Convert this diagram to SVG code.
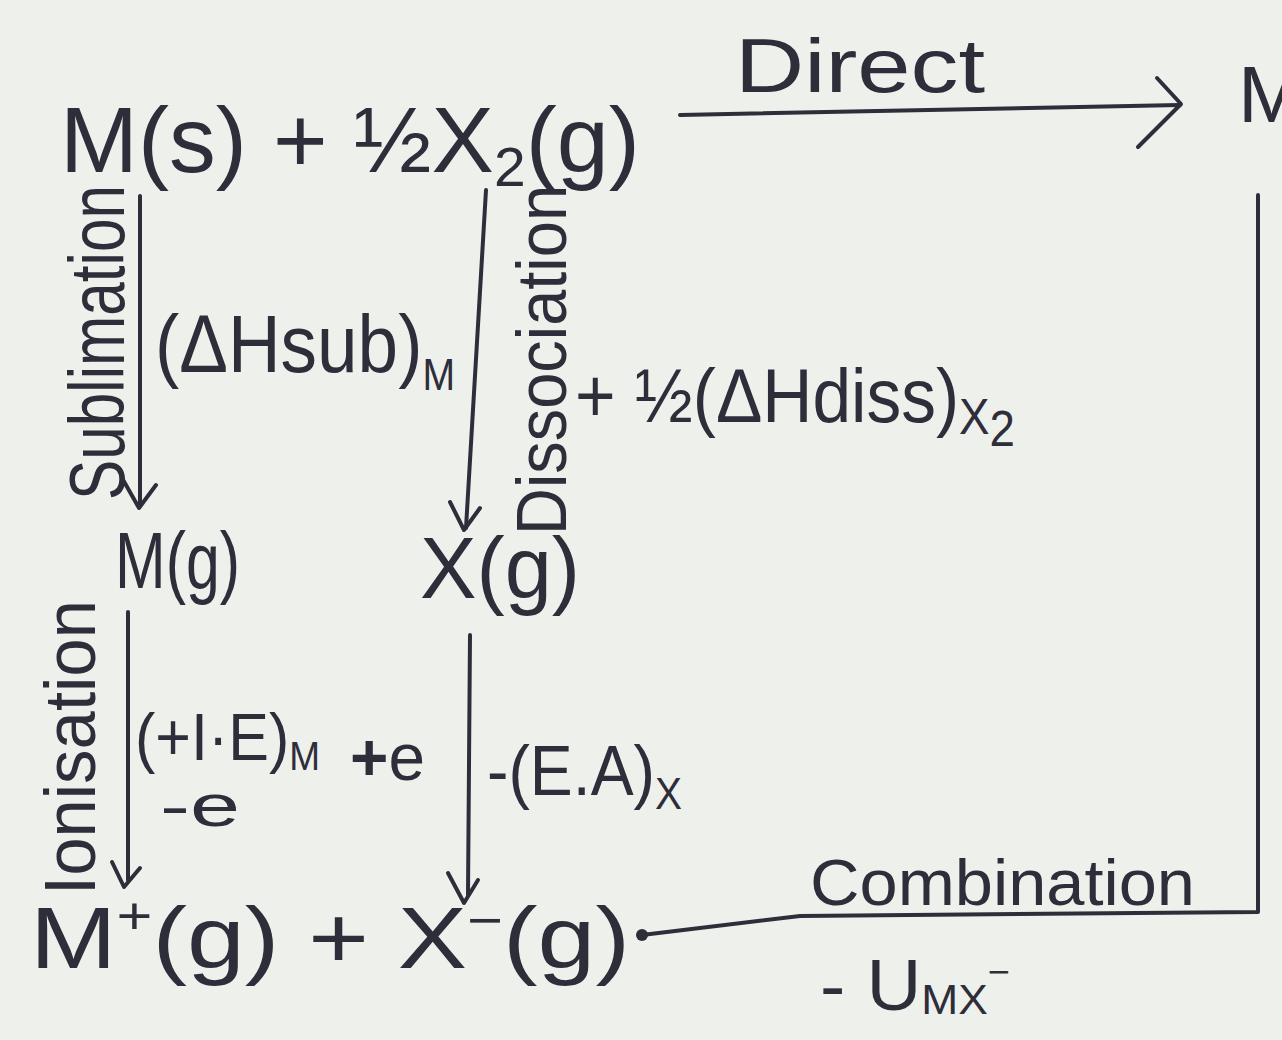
<svg xmlns="http://www.w3.org/2000/svg" width="1282" height="1040" viewBox="0 0 1282 1040">
<style>
.t{font-family:"Liberation Sans","DejaVu Sans",sans-serif;fill:#2e2d3a}
.ln{stroke:#2e2d3a;stroke-width:4;fill:none;stroke-linecap:round;stroke-linejoin:round}
</style>
<rect width="1282" height="1040" fill="#eef0ec"/>
<g id="node-reactants">
<text class="t" x="60" y="172" font-size="92" textLength="580" lengthAdjust="spacingAndGlyphs">M(s) + ½X<tspan font-size="56" dy="14">2</tspan><tspan dy="-14">(g)</tspan></text>
</g>
<g id="node-product">
<text class="t" x="1238" y="122" font-size="80">M</text>
</g>
<g id="node-mg">
<text class="t" x="115" y="588" font-size="80" textLength="125" lengthAdjust="spacingAndGlyphs">M(g)</text>
</g>
<g id="node-xg">
<text class="t" x="420" y="598" font-size="88" textLength="160" lengthAdjust="spacingAndGlyphs">X(g)</text>
</g>
<g id="node-ions">
<text class="t" x="30" y="968" font-size="88" textLength="600" lengthAdjust="spacingAndGlyphs">M<tspan font-size="52" dy="-34">+</tspan><tspan dy="34">(g) + X</tspan><tspan font-size="52" dy="-30">−</tspan><tspan dy="30">(g)</tspan></text>
</g>
<g id="connectors">
<path class="ln" d="M680 115 L1180 105"/>
<path class="ln" d="M1157 78 L1181 104 L1138 147"/>
<path class="ln" d="M140 196 L140 505"/>
<path class="ln" d="M122 478 L139 508 L156 485"/>
<path class="ln" d="M486 190 L466 528"/>
<path class="ln" d="M450 502 L464 530 L480 508"/>
<path class="ln" d="M128 612 L128 880"/>
<path class="ln" d="M112 862 L124 887 L140 868"/>
<path class="ln" d="M470 635 L468 895"/>
<path class="ln" d="M448 873 L464 903 L478 880"/>
<path class="ln" d="M1258 195 L1258 912 L800 916 L642 935"/>
<circle cx="642" cy="935" r="6" fill="#2e2d3a"/>
<text class="t" x="735" y="92" font-size="76" textLength="250" lengthAdjust="spacingAndGlyphs">Direct</text>
<text class="t" transform="translate(124,500) rotate(-90)" font-size="78" textLength="315" lengthAdjust="spacingAndGlyphs">Sublimation</text>
<text class="t" x="155" y="372" font-size="82" textLength="300" lengthAdjust="spacingAndGlyphs">(ΔHsub)<tspan font-size="44" dy="18">M</tspan></text>
<text class="t" transform="translate(566,535) rotate(-90)" font-size="70" textLength="350" lengthAdjust="spacingAndGlyphs">Dissociation</text>
<text class="t" x="575" y="422" font-size="76" textLength="440" lengthAdjust="spacingAndGlyphs">+ ½(ΔHdiss)<tspan font-size="50" dy="12">X</tspan><tspan font-size="50" dy="12">2</tspan></text>
<text class="t" transform="translate(95,895) rotate(-90)" font-size="72" textLength="295" lengthAdjust="spacingAndGlyphs">Ionisation</text>
<text class="t" x="135" y="760" font-size="66" textLength="185" lengthAdjust="spacingAndGlyphs">(+I·E)<tspan font-size="40" dy="10">M</tspan></text>
<text class="t" x="160" y="826" font-size="60" textLength="80" lengthAdjust="spacingAndGlyphs">-e</text>
<text class="t" x="350" y="780" font-size="66" textLength="75" lengthAdjust="spacingAndGlyphs"><tspan font-weight="bold">+</tspan>e</text>
<text class="t" x="487" y="795" font-size="70" textLength="195" lengthAdjust="spacingAndGlyphs">-(E.A)<tspan font-size="44" dy="14">X</tspan></text>
<text class="t" x="810" y="905" font-size="64" textLength="385" lengthAdjust="spacingAndGlyphs">Combination</text>
<text class="t" x="820" y="1010" font-size="72" textLength="190" lengthAdjust="spacingAndGlyphs">- U<tspan font-size="42" dy="4">M</tspan><tspan font-size="42" dy="0">X</tspan><tspan font-size="36" dy="-30">−</tspan></text>
</g>
</svg>
